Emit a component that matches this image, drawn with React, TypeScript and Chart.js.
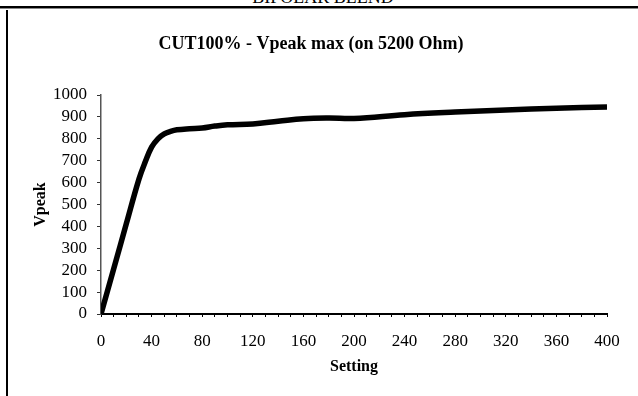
import React, { useEffect, useRef } from "react";
import { Chart, registerables } from "chart.js";

Chart.register(...registerables);

// ---- data ----
const chartTitle = "CUT100% - Vpeak max (on 5200 Ohm)";
const headerText = "BIPOLAR BLEND";
const xAxisTitle = "Setting";
const yAxisTitle = "Vpeak";

const settings = [0, 10, 20, 30, 35, 40, 45, 50, 55, 60, 70, 80, 90, 100, 120, 140, 160, 180, 200, 240, 280, 320, 360, 400];
const vpeak = [0, 205, 412, 616, 695, 762, 800, 822, 834, 841, 846, 849, 858, 864, 868, 880, 892, 895, 893, 910, 922, 932, 940, 945];

const xMin = 0;
const xMax = 400;
const xMinorStep = 10;
const xLabelEvery = 40;
const yMin = 0;
const yMax = 1000;
const yStep = 100;

const FONT = "'Liberation Serif', 'Times New Roman', serif";
const PAD_TOP = 34;

export default function App() {
  const canvasRef = useRef<HTMLCanvasElement | null>(null);

  useEffect(() => {
    const canvas = canvasRef.current;
    if (!canvas) return;
    const chart = new Chart(canvas, {
      type: "line",
      data: {
        datasets: [
          {
            data: settings.map((s, i) => ({ x: s, y: vpeak[i] })),
            borderColor: "#000000",
            backgroundColor: "#000000",
            borderWidth: 5.5,
            pointRadius: 0,
            tension: 0.4,
            fill: false,
          },
        ],
      },
      options: {
        responsive: false,
        animation: false,
        devicePixelRatio: 1,
        layout: { padding: { top: PAD_TOP, left: 15, right: 31, bottom: 0 } },
        plugins: {
          legend: { display: false },
          tooltip: { enabled: false },
          title: {
            display: true,
            text: chartTitle,
            color: "#000",
            font: { family: FONT, size: 18, weight: "bold", lineHeight: 1.2 },
            padding: { top: 0, bottom: 95 - PAD_TOP - 21.6 },
          },
        },
        scales: {
          x: {
            type: "linear",
            min: xMin,
            max: xMax,
            afterFit: (scale: any) => {
              scale.height = 396 - 314;
            },
            border: { display: true, color: "#000", width: 2 },
            grid: {
              display: true,
              drawOnChartArea: false,
              drawTicks: true,
              tickLength: 3,
              color: "#000",
              lineWidth: 1,
            },
            ticks: {
              stepSize: xMinorStep,
              autoSkip: false,
              maxRotation: 0,
              minRotation: 0,
              padding: 14,
              color: "#000",
              font: { family: FONT, size: 17 },
              callback: (v: any) => (Number(v) % xLabelEvery === 0 ? String(v) : ""),
            },
            title: {
              display: true,
              text: xAxisTitle,
              color: "#000",
              font: { family: FONT, size: 16, weight: "bold", lineHeight: 1.2 },
              padding: { top: 0, bottom: 20 },
            },
          },
          y: {
            type: "linear",
            min: yMin,
            max: yMax,
            afterFit: (scale: any) => {
              scale.width = 101 - 15;
            },
            border: { display: true, color: "#555", width: 1.5 },
            grid: {
              display: true,
              drawOnChartArea: false,
              drawTicks: true,
              tickLength: 4,
              color: "#333",
              lineWidth: 1,
            },
            ticks: {
              stepSize: yStep,
              autoSkip: false,
              padding: 10,
              color: "#000",
              font: { family: FONT, size: 17 },
              callback: (v: any) => String(v),
            },
            title: {
              display: true,
              text: yAxisTitle,
              color: "#000",
              font: { family: FONT, size: 16, weight: "bold", lineHeight: 1.2 },
              padding: { top: 16, bottom: 0 },
            },
          },
        },
      },
    });
    return () => chart.destroy();
  }, []);

  return (
    <div style={{ position: "absolute", left: 0, top: 0, width: 638, height: 396, background: "#fff", overflow: "hidden" }}>
      <div
        style={{
          position: "absolute",
          left: 0,
          top: -12,
          width: 646,
          textAlign: "center",
          fontFamily: FONT,
          fontSize: 18,
          lineHeight: "18px",
          color: "#000",
        }}
      >
        {headerText}
      </div>
      <div style={{ position: "absolute", left: 0, top: 6, width: 638, height: 2, background: "#000" }} />
      <div style={{ position: "absolute", left: 0, top: 8, width: 638, height: 1, background: "#888" }} />
      <div style={{ position: "absolute", left: 6, top: 10, width: 2, height: 386, background: "#000" }} />
      <canvas ref={canvasRef} width={638} height={396} style={{ position: "absolute", left: 0, top: 0, width: 638, height: 396 }} />
    </div>
  );
}
